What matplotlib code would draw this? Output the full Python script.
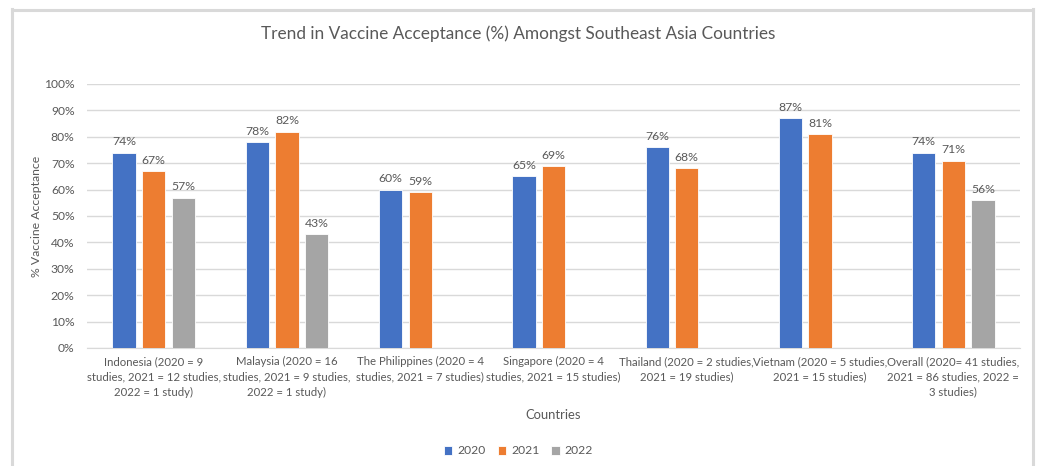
import matplotlib.pyplot as plt
import matplotlib.ticker as mticker
import numpy as np

plt.rcParams['font.family'] = ['Lato', 'DejaVu Sans']

countries = [
    "Indonesia (2020 = 9\nstudies, 2021 = 12 studies,\n2022 = 1 study)",
    "Malaysia (2020 = 16\nstudies, 2021 = 9 studies,\n2022 = 1 study)",
    "The Philippines (2020 = 4\nstudies, 2021 = 7 studies)",
    "Singapore (2020 = 4\nstudies, 2021 = 15 studies)",
    "Thailand (2020 = 2 studies,\n2021 = 19 studies)",
    "Vietnam (2020 = 5 studies,\n2021 = 15 studies)",
    "Overall (2020= 41 studies,\n2021 = 86 studies, 2022 =\n3 studies)",
]
years = ["2020", "2021", "2022"]
acc_2020 = [74, 78, 60, 65, 76, 87, 74]
acc_2021 = [67, 82, 59, 69, 68, 81, 71]
acc_2022 = [57, 43, np.nan, np.nan, np.nan, np.nan, 56]
colors = ['#4472C4', '#ED7D31', '#A5A5A5']
text_c = '#595959'

fig = plt.figure(figsize=(10.37, 4.66), dpi=100)
ax = fig.add_axes([87 / 1037, 118 / 466, (1020 - 87) / 1037, (348 - 84) / 466])

# chart frame
fig.add_artist(plt.Line2D([12 / 1037, 12 / 1037], [0, 1 - 9 / 466], color='#d9d9d9', lw=2.2))
fig.add_artist(plt.Line2D([12 / 1037, 1033 / 1037], [1 - 9.5 / 466, 1 - 9.5 / 466], color='#d9d9d9', lw=2.2))
fig.add_artist(plt.Line2D([1033 / 1037, 1033 / 1037], [0, 1 - 9 / 466], color='#d9d9d9', lw=2.2))

x = np.arange(len(countries))
step = 0.222
width = 0.175
for i, (vals, yr) in enumerate(zip([acc_2020, acc_2021, acc_2022], years)):
    pos = x + (i - 1) * step
    ax.bar(pos, vals, width, color=colors[i], edgecolor='white', linewidth=0.6,
           label=yr, zorder=3)
    for p, v in zip(pos, vals):
        if not np.isnan(v):
            ax.text(p, v + 2, f"{v:.0f}%", ha='center', va='bottom', fontsize=8.8, color=text_c)

ax.set_xlim(-0.5, len(countries) - 0.5)
ax.set_ylim(0, 100)
ax.set_yticks(np.arange(0, 101, 10))
ax.yaxis.set_major_formatter(mticker.FuncFormatter(lambda v, p: f"{v:.0f}%"))
ax.set_xticks(x)
ax.set_xticklabels(countries, fontsize=8.2, color=text_c, linespacing=1.45)
ax.tick_params(axis='y', labelsize=8.7, labelcolor=text_c, length=0, pad=9)
ax.tick_params(axis='x', length=0, pad=6)
ax.grid(axis='y', color='#d9d9d9', lw=1, zorder=0)
for s in ['top', 'right', 'left']:
    ax.spines[s].set_visible(False)
ax.spines['bottom'].set_color('#d9d9d9')

ax.set_ylabel("% Vaccine Acceptance", fontsize=8.8, color=text_c, labelpad=1)
ax.set_xlabel("Countries", fontsize=9.4, color=text_c, labelpad=8)
fig.text(0.5, 1 - 34 / 466, "Trend in Vaccine Acceptance (%) Amongst Southeast Asia Countries",
         ha='center', va='center', fontsize=12.4, color=text_c)

fig.legend(loc='center', bbox_to_anchor=(0.5, 1 - 451 / 466), ncol=3, frameon=False,
           fontsize=8.7, labelcolor=text_c, handlelength=0.7, handleheight=0.7,
           handletextpad=0.4, columnspacing=1.0)

fig.savefig("out.png", dpi=100)
